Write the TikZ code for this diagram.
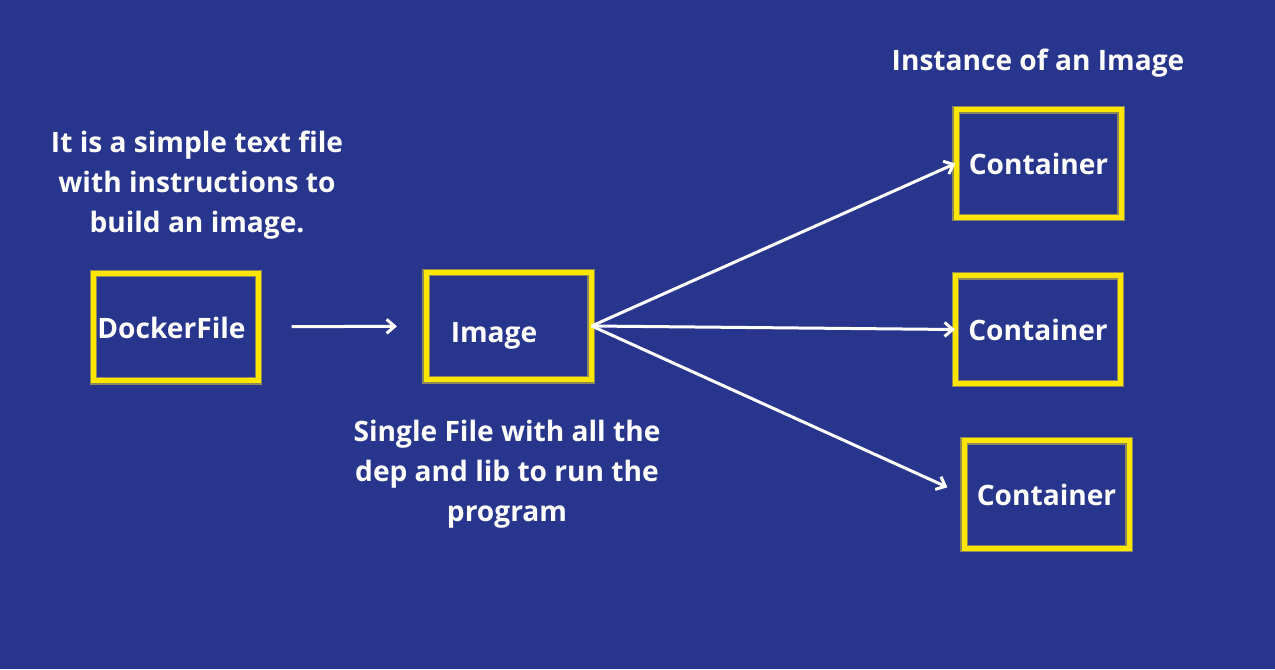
\documentclass[tikz,border=0pt]{standalone}
\usepackage{fontspec}
\setmainfont{Open Sans}
\usepackage{tikz}
\usetikzlibrary{arrows.meta}
\definecolor{dockerbg}{RGB}{40,53,141}
\definecolor{boxyellow}{RGB}{255,230,0}
\definecolor{boxedge}{RGB}{140,136,90}

\begin{document}
\begin{tikzpicture}[
  font=\fontsize{16}{22.8}\selectfont\bfseries,
  box/.style={rectangle, draw=boxedge, line width=0.025cm, double=boxyellow,
    double distance=0.1cm, minimum width=3.3cm, minimum height=2.15cm},
  txt/.style={text=white, align=center},
  arr/.style={white, line width=0.06cm, -{Straight Barb[length=0.16cm,width=0.28cm]}}
]
%%% Draws background
\fill[dockerbg] (0,0) rectangle (25.5,13.38);
\useasboundingbox (0,0) rectangle (25.5,13.38);
%%% Draws boxes
% draws left boxes
\node[box, label={[txt, xshift=-0.09cm, yshift=-0.02cm]center:DockerFile}] (dockerfile) at (3.52,6.84) {};
\node[box, label={[txt, xshift=-0.29cm, yshift=-0.2cm]center:Image}] (image) at (10.17,6.86) {};
% draws container boxes
\node[box, label={[txt]center:Container}] (container1) at (20.77,10.11) {};
\node[box, label={[txt]center:Container}] (container2) at (20.76,6.79) {};
\node[box, label={[txt]center:Container}] (container3) at (20.93,3.49) {};
%%% Draws arrows
\draw[arr, shorten <=0.65cm, shorten >=0.57cm] (dockerfile) -- (image);
\draw[arr] (image.east) -- (container1.west);
\draw[arr] (image.east) -- (container2.west);
\draw[arr, shorten >=0.35cm] (image.east) -- (container3.west);
%%% Draws notes
\node[txt] (dockernote) at (3.94,9.68) {It is a simple text file\\with instructions to\\build an image.};
\node[txt] (imagenote) at (10.14,3.9) {Single File with all the\\dep and lib to run the\\program};
\node[txt] (containernote) at (20.76,12.12) {Instance of an Image};
\end{tikzpicture}
\end{document}
